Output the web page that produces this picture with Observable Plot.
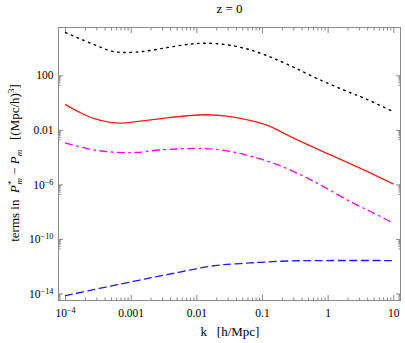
<!DOCTYPE html>
<html><head><meta charset="utf-8">
<script src="https://cdn.jsdelivr.net/npm/d3@7"></script>
<script src="https://cdn.jsdelivr.net/npm/@observablehq/plot@0.6"></script>
<style>
body{margin:0;background:#fff} svg{display:block}
svg text, svg tspan { font-family: "Liberation Serif", "DejaVu Serif", serif !important; }
</style>
</head><body><div id="chart"></div>
<script>
// log10 k and log10 value
const blackLogK = [-4, -3.78, -3.52, -3.32, -3.14, -2.82, -2.45, -2.1, -1.87, -1.54, -1.23, -0.93, -0.57, -0.16, 0.34, 0.52, 1.0];
const blackLogP = [5.17, 4.71, 4.20, 3.83, 3.71, 3.78, 4.07, 4.32, 4.39, 4.27, 3.96, 3.47, 2.73, 1.78, 0.75, 0.42, -0.65];
const redLogK = [-4, -3.78, -3.57, -3.32, -3.12, -2.82, -2.45, -2.14, -1.84, -1.54, -1.11, -0.91, -0.55, -0.05, 0.46, 0.99];
const redLogP = [-0.12, -0.69, -1.13, -1.42, -1.47, -1.30, -1.08, -0.93, -0.86, -0.96, -1.37, -1.66, -2.52, -3.62, -4.72, -5.93];
const magentaLogK = [-4, -3.58, -3.21, -2.91, -2.56, -2.05, -1.75, -1.49, -1.21, -0.80, -0.39, -0.05, 0.36, 0.67, 0.97];
const magentaLogP = [-2.93, -3.42, -3.62, -3.62, -3.44, -3.33, -3.37, -3.55, -3.86, -4.47, -5.33, -6.18, -7.28, -8.01, -8.75];
const blueLogK = [-4, -3.13, -2.37, -1.72, -1.33, -1.03, -0.6, 0, 1.0];
const blueLogP = [-14.12, -13.24, -12.5, -11.92, -11.77, -11.68, -11.58, -11.55, -11.55];

const xTicks = [1e-4, 1e-3, 1e-2, 0.1, 1, 10];
const xTickLabels = ["10^−4", "0.001", "0.01", "0.1", "1", "10"];
const yTicks = [1e2, 1e-2, 1e-6, 1e-10, 1e-14];
const yTickLabels = ["100", "0.01", "10^−6", "10^−10", "10^−14"];

const toRows = (lk, lp) => lk.map((v, i) => ({k: 10 ** v, p: 10 ** lp[i]}));
const black = toRows(blackLogK, blackLogP);
const red = toRows(redLogK, redLogP);
const magenta = toRows(magentaLogK, magentaLogP);
const blue = toRows(blueLogK, blueLogP);

const xDomain = [10 ** -4.107, 10 ** 1.102];
const yDomain = [10 ** -14.48, 10 ** 5.54];
const inX = v => v >= xDomain[0] && v <= xDomain[1];
const inY = v => v >= yDomain[0] && v <= yDomain[1];
const xMinor = [];
for (let d = -4; d <= 0; d++) for (let m = 2; m <= 9; m++) xMinor.push(m * 10 ** d);
const yMinor = [];
for (const M of [2, -2, -6, -10, -14]) for (let m = 2; m <= 9; m++) yMinor.push(m * 10 ** (M - 1));

const lab = (ticks, labels) => d => {
  const i = ticks.findIndex(t => Math.abs(Math.log10(t) - Math.log10(d)) < 1e-6);
  return i >= 0 ? labels[i] : "";
};
const none = () => "";
const tickColor = "#8a8a8a";
const serif = "\"Liberation Serif\", \"DejaVu Serif\", serif";

const chart = Plot.plot({
  width: 405, height: 343,
  marginLeft: 58, marginRight: 5, marginTop: 27, marginBottom: 43,
  style: {fontFamily: serif, fontSize: "11.5px", background: "#fff"},
  x: {type: "log", domain: xDomain, label: null},
  y: {type: "log", domain: yDomain, label: null},
  marks: [
    Plot.axisX({ticks: xTicks, anchor: "bottom", tickSize: 0, tickPadding: 8, tickFormat: lab(xTicks, xTickLabels), label: null, fill: "black"}),
    Plot.axisX({ticks: xTicks, anchor: "bottom", tickSize: -5, tickFormat: none, label: null, stroke: tickColor}),
    Plot.axisX({ticks: xMinor.filter(inX), anchor: "bottom", tickSize: -2.5, tickFormat: none, label: null, stroke: tickColor}),
    Plot.axisX({ticks: xTicks, anchor: "top", tickSize: -5, tickFormat: none, label: null, stroke: tickColor}),
    Plot.axisX({ticks: xMinor.filter(inX), anchor: "top", tickSize: -2.5, tickFormat: none, label: null, stroke: tickColor}),
    Plot.axisY({ticks: yTicks, anchor: "left", tickSize: 0, tickPadding: 5, tickFormat: lab(yTicks, yTickLabels), label: null, fill: "black"}),
    Plot.axisY({ticks: yTicks, anchor: "left", tickSize: -5, tickFormat: none, label: null, stroke: tickColor}),
    Plot.axisY({ticks: yMinor.filter(inY), anchor: "left", tickSize: -2.5, tickFormat: none, label: null, stroke: tickColor}),
    Plot.axisY({ticks: yTicks, anchor: "right", tickSize: -5, tickFormat: none, label: null, stroke: tickColor}),
    Plot.axisY({ticks: yMinor.filter(inY), anchor: "right", tickSize: -2.5, tickFormat: none, label: null, stroke: tickColor}),
    Plot.frame({stroke: tickColor}),
    Plot.line(black, {x: "k", y: "p", stroke: "black", strokeWidth: 1.4, strokeDasharray: "1.6,4.6", curve: "catmull-rom"}),
    Plot.line(red, {x: "k", y: "p", stroke: "#ff1a1a", strokeWidth: 1.3, curve: "catmull-rom"}),
    Plot.line(magenta, {x: "k", y: "p", stroke: "#ff00ff", strokeWidth: 1.3, strokeDasharray: "7,4.5,1.6,4.5", curve: "catmull-rom"}),
    Plot.line(blue, {x: "k", y: "p", stroke: "#1a1aff", strokeWidth: 1.3, strokeDasharray: "7,4.5", curve: "catmull-rom"})
  ]
});

const svg = d3.select(chart);
// superscripts in tick labels
svg.selectAll("text").each(function() {
  const t = this.textContent;
  if (t.includes("^")) {
    const [b, e] = t.split("^");
    const s = d3.select(this);
    s.text(null);
    s.append("tspan").text(b);
    s.append("tspan").attr("dy", "-0.45em").attr("font-size", "0.72em").text(e);
  }
});
svg.append("text").attr("x", 229.5).attr("y", 12.5).attr("text-anchor", "middle")
  .attr("font-family", serif).attr("font-size", 13).attr("fill", "black").text("z = 0");
svg.append("text").attr("x", 230).attr("y", 335.5).attr("text-anchor", "middle")
  .attr("font-family", serif).attr("font-size", 13).attr("fill", "black")
  .style("white-space", "pre").text("k   [h/Mpc]");
const yl = svg.append("text").attr("transform", "translate(19,163) rotate(-90)").attr("text-anchor", "middle")
  .attr("font-family", serif).attr("font-size", 13).attr("fill", "black").style("white-space", "pre");
yl.append("tspan").text("terms in  ");
yl.append("tspan").attr("font-style", "italic").text("P");
yl.append("tspan").attr("dy", -5).attr("font-size", 9).text("*");
yl.append("tspan").attr("dx", -4).attr("dy", 8).attr("font-size", 9).attr("font-style", "italic").text("m");
yl.append("tspan").attr("dy", -3).text(" − ");
yl.append("tspan").attr("font-style", "italic").text("P");
yl.append("tspan").attr("dy", 3).attr("font-size", 9).attr("font-style", "italic").text("m");
yl.append("tspan").attr("dy", -3).text("   [(Mpc/h)");
yl.append("tspan").attr("dy", -5).attr("font-size", 9).text("3");
yl.append("tspan").attr("dy", 5).text("]");

document.getElementById("chart").appendChild(chart);
</script>
</body></html>
